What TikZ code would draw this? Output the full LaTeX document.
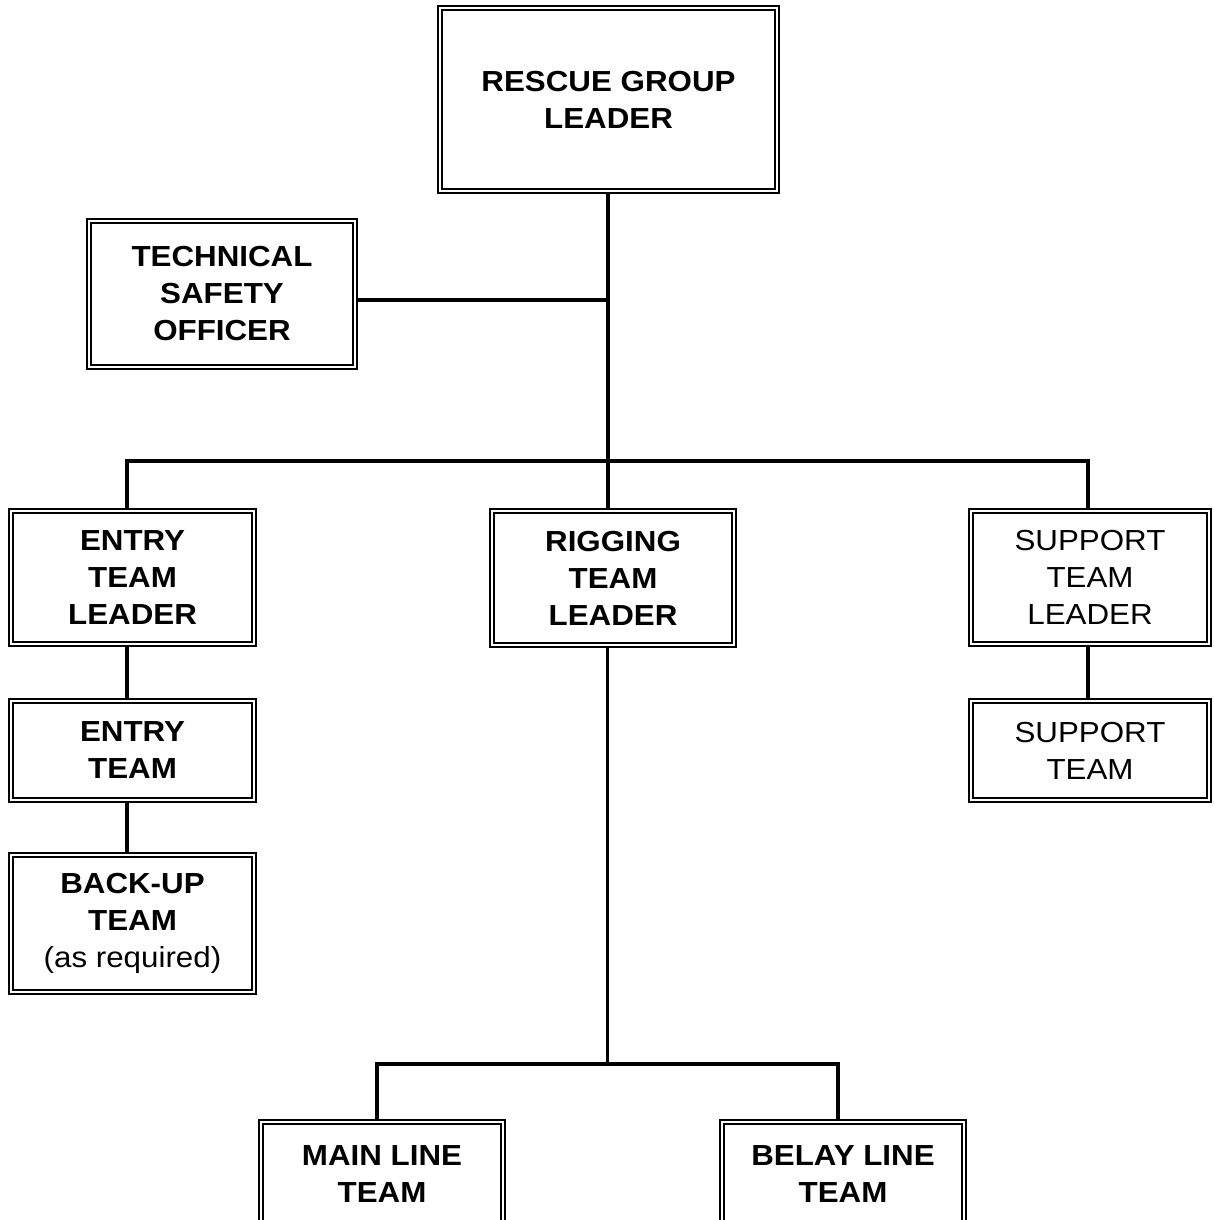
\documentclass[tikz,border=0pt]{standalone}
\usepackage{fontspec}
\setmainfont{Liberation Sans}[FakeStretch=1.08]
\begin{document}
\begin{tikzpicture}[x=1pt,y=-1pt,
  box/.style={draw, double, line width=1.8pt, double distance=2pt, inner sep=0pt,
    align=center, font=\bfseries\fontsize{29}{37}\selectfont},
  plain/.style={box, font=\fontsize{29}{37}\selectfont},
  conn/.style={line width=3.4pt}]
\useasboundingbox (0,0) rectangle (1213,1220);
\clip (0,0) rectangle (1213,1220);
\fill[white] (0,0) rectangle (1213,1220);

\node[box, minimum width=337.4pt, minimum height=183.4pt] (rgl) at (608.5,99.5) {RESCUE GROUP\\LEADER};
\node[box, minimum width=266.4pt, minimum height=146.4pt] (tso) at (222,294) {TECHNICAL\\SAFETY\\OFFICER};
\node[box, minimum width=243.4pt, minimum height=133.4pt] (etl) at (132.5,577.5) {ENTRY\\TEAM\\LEADER};
\node[box, minimum width=242.4pt, minimum height=134.4pt] (rtl) at (613,578) {RIGGING\\TEAM\\LEADER};
\node[plain, minimum width=238.4pt, minimum height=133.4pt] (stl) at (1090,577.5) {SUPPORT\\TEAM\\LEADER};
\node[box, minimum width=243.4pt, minimum height=99.4pt] (et) at (132.5,750.5) {ENTRY\\TEAM};
\node[plain, minimum width=238.4pt, minimum height=99.4pt] (st) at (1090,750.5) {SUPPORT\\TEAM};
\node[box, minimum width=243.4pt, minimum height=137.4pt] (bu) at (132.5,923.5) {BACK-UP\\TEAM\\{\mdseries (as required)}};
\node[box, minimum width=242.4pt, minimum height=105.4pt] (ml) at (382,1174.5) {MAIN LINE\\TEAM};
\node[box, minimum width=242.4pt, minimum height=105.4pt] (bl) at (843,1174.5) {BELAY LINE\\TEAM};

\coordinate (sp) at (607.5,0);
\coordinate (j1) at (607.5,300);
\coordinate (busL) at (127,461);
\coordinate (busR) at (1088,461);
\coordinate (bb) at (607.5,1064);
\coordinate (bbL) at (377,1064);
\coordinate (bbR) at (838,1064);

\draw[conn, line width=4pt] (rgl.south -| sp) -- (rtl.north -| sp);
\draw[conn] (tso.east |- j1) -- (j1);
\draw[conn] (etl.north -| busL) -- (busL) -- (busR) -- (stl.north -| busR);
\draw[conn] (etl.south -| busL) -- (et.north -| busL);
\draw[conn] (et.south -| busL) -- (bu.north -| busL);
\draw[conn] (stl.south -| busR) -- (st.north -| busR);
\draw[conn] (rtl.south -| sp) -- (bb);
\draw[conn] (ml.north -| bbL) -- (bbL) -- (bbR) -- (bl.north -| bbR);
\end{tikzpicture}
\end{document}
